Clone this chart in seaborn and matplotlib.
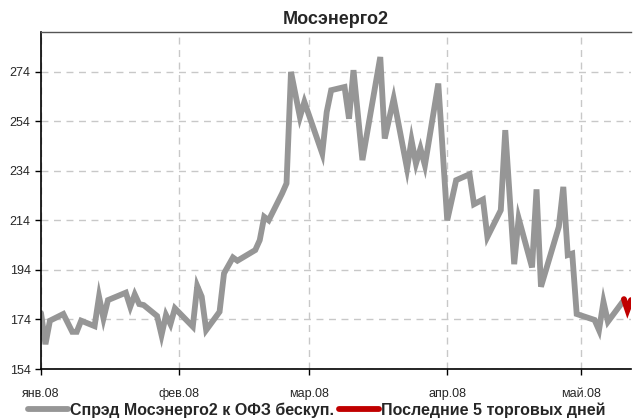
import pandas as pd
import seaborn as sns
import matplotlib.pyplot as plt
import matplotlib.dates as mdates

# spread data
dates = ['2008-01-01', '2008-01-02', '2008-01-03', '2008-01-06', '2008-01-08',
         '2008-01-09', '2008-01-10', '2008-01-13', '2008-01-14', '2008-01-15',
         '2008-01-16', '2008-01-20', '2008-01-21', '2008-01-22', '2008-01-23',
         '2008-01-24', '2008-01-27', '2008-01-28', '2008-01-29', '2008-01-30',
         '2008-01-31', '2008-02-04', '2008-02-05', '2008-02-06', '2008-02-07',
         '2008-02-10', '2008-02-11', '2008-02-13', '2008-02-14', '2008-02-18',
         '2008-02-19', '2008-02-20', '2008-02-21', '2008-02-24', '2008-02-25',
         '2008-02-26', '2008-02-28', '2008-02-29', '2008-03-04', '2008-03-05',
         '2008-03-06', '2008-03-09', '2008-03-10', '2008-03-11', '2008-03-13',
         '2008-03-17', '2008-03-18', '2008-03-20', '2008-03-23', '2008-03-24',
         '2008-03-25', '2008-03-26', '2008-03-27', '2008-03-30', '2008-04-01',
         '2008-04-03', '2008-04-06', '2008-04-07', '2008-04-09', '2008-04-10',
         '2008-04-13', '2008-04-14', '2008-04-16', '2008-04-17', '2008-04-20',
         '2008-04-21', '2008-04-22', '2008-04-26', '2008-04-27', '2008-04-28',
         '2008-04-29', '2008-04-30', '2008-05-04', '2008-05-05', '2008-05-06',
         '2008-05-07', '2008-05-10 14:00']
spread = [176.6, 164.0, 173.5, 176.2, 169.0, 169.0, 173.5, 171.3, 183.2, 174.4,
          181.8, 184.8, 179.1, 184.1, 180.2, 179.8, 175.4, 167.7, 175.8, 172.1,
          178.5, 171.1, 187.5, 183.2, 169.7, 177.1, 192.6, 199.0, 197.7, 202.0,
          206.0, 215.4, 214.0, 224.8, 228.9, 273.9, 255.7, 261.8, 241.0, 257.7,
          266.5, 267.8, 255.0, 274.6, 238.3, 279.9, 247.0, 263.1, 234.9, 246.3,
          236.9, 243.0, 236.2, 269.2, 214.0, 230.2, 232.6, 220.5, 222.4, 207.3,
          218.1, 250.4, 196.3, 214.8, 195.0, 226.5, 187.2, 211.4, 227.5, 200.0,
          200.6, 176.2, 173.8, 169.7, 181.1, 173.1, 181.8]

last_dates = ['2008-05-10 14:00', '2008-05-11 00:00', '2008-05-11 09:00',
              '2008-05-11 18:00', '2008-05-12 04:00']
last_spread = [182.2, 179.8, 177.8, 179.6, 181.8]

month_ticks = ['2008-01-01', '2008-02-01', '2008-03-01', '2008-04-01', '2008-05-01']
month_labels = ['янв.08', 'фев.08', 'мар.08', 'апр.08', 'май.08']
y_ticks = [154, 174, 194, 214, 234, 254, 274]

sns.set_style('white')
plt.rcParams['font.family'] = ['Liberation Sans Narrow', 'Liberation Sans', 'DejaVu Sans']

df = pd.DataFrame({'date': pd.to_datetime(dates, format='mixed'), 'spread': spread})
df_last = pd.DataFrame({'date': pd.to_datetime(last_dates, format='mixed'), 'spread': last_spread})

fig = plt.figure(figsize=(6.34, 4.19), dpi=100)
ax = fig.add_axes([41 / 634, 1 - 369 / 419, 590 / 634, 337 / 419])

sns.lineplot(data=df, x='date', y='spread', ax=ax, color='#969696', lw=4.2,
             label='Спрэд Мосэнерго2 к ОФЗ бескуп.', solid_joinstyle='miter')
sns.lineplot(data=df_last, x='date', y='spread', ax=ax, color='#c00000', lw=4.2,
             label='Последние 5 торговых дней', solid_joinstyle='miter')

ax.set_ylim(154, 290)
ax.set_xlim(pd.Timestamp('2008-01-01'), pd.Timestamp(last_dates[-1]))
ax.set_yticks(y_ticks)
ax.set_xticks(mdates.date2num(pd.to_datetime(month_ticks)))
ax.set_xticklabels(month_labels)
ax.grid(True, ls=(0, (5, 4)), color='#c8c8c8', lw=1)
ax.set_xlabel('')
ax.set_ylabel('')
ax.tick_params(axis='both', direction='out', length=4, width=1, labelsize=9,
               left=True, bottom=True, color='black')
ax.tick_params(axis='x', pad=10)
for s in ['left', 'bottom']:
    ax.spines[s].set_color('black')
    ax.spines[s].set_linewidth(1.2)
ax.spines['top'].set_color('#555555')
ax.spines['top'].set_linewidth(1)
ax.spines['right'].set_visible(False)

ax.set_title('Мосэнерго2', fontsize=13, fontweight='bold', pad=6)

ax.get_legend().remove()
h, l = ax.get_legend_handles_labels()
fig.legend(h, l, loc='lower center', bbox_to_anchor=(0.5, -0.032), ncol=2,
           frameon=False, handlelength=2.5, handletextpad=0.15, columnspacing=0.3,
           prop={'weight': 'bold', 'size': 11.5})

plt.savefig('out.png', dpi=100)
